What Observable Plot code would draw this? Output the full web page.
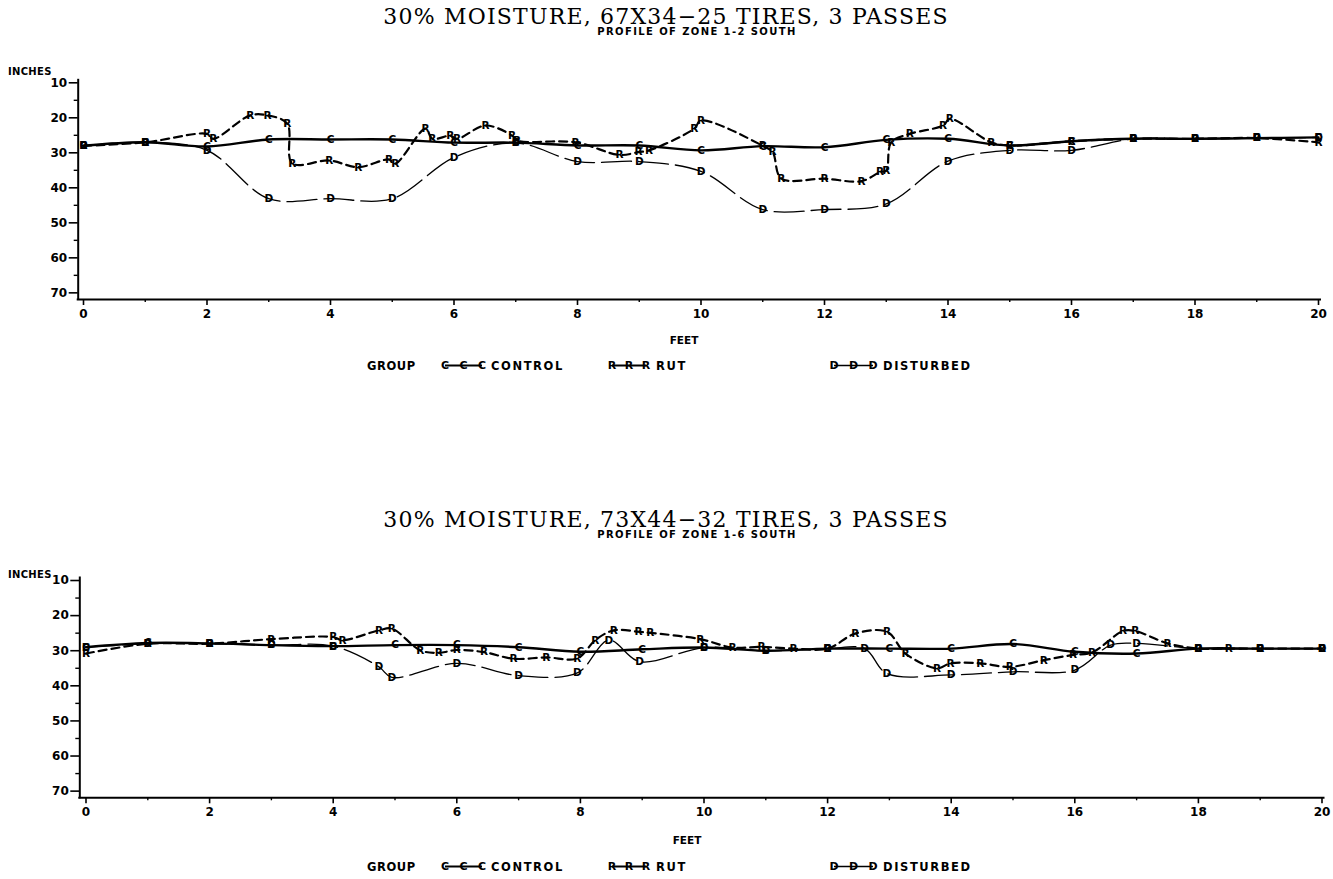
<!DOCTYPE html>
<html><head><meta charset="utf-8">
<script src="https://cdn.jsdelivr.net/npm/d3@7"></script>
<script src="https://cdn.jsdelivr.net/npm/@observablehq/plot@0.6"></script>
<style>
body{margin:0;background:#fff;}
#wrap{position:relative;width:1333px;height:879px;overflow:hidden;background:#fff;}
.chart{position:absolute;left:0;}
#overlay{position:absolute;left:0;top:0;pointer-events:none;}
</style></head>
<body><div id="wrap"><div id="c1" class="chart" style="top:0px"></div><div id="c2" class="chart" style="top:500px"></div></div>
<script>
// ---------- DATA ----------
const groups = ["CONTROL", "RUT", "DISTURBED"];
const groupLetters = ["C", "R", "D"];
const titles = ["30% MOISTURE, 67X34\u221225 TIRES, 3 PASSES", "30% MOISTURE, 73X44\u221232 TIRES, 3 PASSES"];
const subtitles = ["PROFILE OF ZONE 1-2 SOUTH", "PROFILE OF ZONE 1-6 SOUTH"];
const yAxisTitle = "INCHES";
const xAxisTitle = "FEET";
const legendTitle = "GROUP";
const yTicksMajor = [10, 20, 30, 40, 50, 60, 70];
const yTicksMinor = [15, 25, 35, 45, 55, 65];
const xTicksMajor = [0, 2, 4, 6, 8, 10, 12, 14, 16, 18, 20];
const xTicksMinor = [1, 3, 5, 7, 9, 11, 13, 15, 17, 19];

// Chart 1: zone 1-2 south
const z12ControlX = [0,1,2,3,4,5,6,7,8,9,10,11,12,13,14,15,16,17,18,19,20];
const z12ControlY = [28,27,28.2,26.2,26.2,26.2,27.1,27.1,27.9,27.9,29.3,28.1,28.4,26.3,26,27.9,26.7,26,26,25.8,25.6];
const z12RutX = [0,1,2,2.1,2.7,2.98,3.3,3.38,3.98,4.45,4.95,5.05,5.54,5.65,5.94,6.05,6.51,6.94,7.02,7.97,8.68,8.99,9.16,9.89,10,11,11.16,11.3,12,12.6,12.9,13,13.08,13.38,13.92,14.03,14.7,15,16,17,18,19,20];
const z12RutY = [28,27,24.6,26,19.3,19.3,21.7,33,32.2,34.1,31.9,33.1,23.1,26,25.1,26,22.2,25.1,26.5,27,30.6,29.8,29.3,23.1,20.8,28,29.8,37.3,37.4,38.1,35.5,35.1,27,24.6,22.2,20.3,27,27.9,26.7,26,26,25.8,27];
const z12DistX = [0,1,2,3,4,5,6,7,8,9,10,11,12,13,14,15,16,17,18,19,20];
const z12DistY = [28,27,29.3,43.1,43.1,43.1,31.3,27.2,32.5,32.5,35.3,46.2,46.2,44.6,32.4,29.3,29.3,26,26,25.8,25.6];

// Chart 2: zone 1-6 south
const z16ControlX = [0,1,2,3,4,5,6,7,8,9,10,11,12,13,14,15,16,17,18,19,20];
const z16ControlY = [29,27.8,27.9,28.4,28.7,28.4,28.4,29,30.3,29.6,29.1,30,29.4,29.4,29.4,28.1,30.3,30.8,29.4,29.4,29.4];
const z16RutX = [0,1,2,3,4,4.15,4.74,4.95,5.41,5.71,6,6.44,6.92,7.45,7.95,8.24,8.54,8.94,9.13,9.94,10.46,10.93,11.45,12,12.45,12.96,13.26,13.77,13.99,14.47,14.95,15.5,15.97,16.28,16.78,16.98,17.5,18,18.49,19,20];
const z16RutY = [30.8,28,28,26.7,26.1,27,24.2,23.7,29.9,30.6,29.8,30.4,32.3,31.9,32.2,27,24.2,24.6,24.9,26.7,29.1,28.9,29.4,29.4,25.1,24.6,30.8,35,33.6,33.6,34.6,32.7,31.2,30.5,24.4,24.4,27.9,29.4,29.4,29.4,29.4];
const z16DistX = [0,1,2,3,4,4.74,4.95,6,7,7.95,8.46,8.96,10,11,12,12.6,12.96,14,15,16,16.58,17,18,19,20];
const z16DistY = [29,28,28,28.4,28.7,34.6,37.6,33.6,37.1,36.3,27,33.1,29.1,30,29.4,29.4,36.5,36.9,36,35.5,28.4,27.9,29.4,29.4,29.4];

// ---------- BUILD ----------
function rows(xs, ys, g, letter) { return xs.map((x, i) => ({x, y: ys[i], g, letter})); }

const lineStyles = {
  CONTROL: {strokeWidth: 2.4},
  RUT: {strokeWidth: 2.2, strokeDasharray: "8,5"},
  DISTURBED: {strokeWidth: 1.3, strokeDasharray: "30,7"}
};

function makeChart(series, o) {
  const order = ["DISTURBED", "RUT", "CONTROL"];
  const lines = order.map(g => Plot.line(series[g], {x: "x", y: "y", curve: "catmull-rom", stroke: "#000", ...lineStyles[g]}));
  const pts = order.flatMap(g => series[g]);
  return Plot.plot({
    width: 1333, height: o.height,
    marginLeft: o.ml, marginRight: o.mr, marginTop: o.mt, marginBottom: o.mb,
    x: {domain: [0, 20]},
    y: {domain: [71.9, 9]},
    style: {fontFamily: "DejaVu Sans", fontWeight: "bold", color: "#000", background: "#fff", overflow: "visible"},
    marks: [
      Plot.axisY({ticks: yTicksMajor, tickSize: 9, tickPadding: 2, dx: o.ydx, label: null, fontSize: 12, fontWeight: "bold", strokeWidth: 1.6}),
      Plot.axisY({ticks: yTicksMinor, tickSize: 4, tickFormat: () => "", dx: o.ydx, label: null, strokeWidth: 1.4}),
      Plot.axisX({ticks: xTicksMajor, tickSize: 6, tickPadding: 4, label: null, fontSize: 12, fontWeight: "bold", strokeWidth: 1.6}),
      Plot.axisX({ticks: xTicksMinor, tickSize: 3, tickFormat: () => "", label: null, strokeWidth: 1.4}),
      Plot.ruleX([0], {dx: o.ydx, stroke: "#000", strokeWidth: 2, insetBottom: -1}),
      Plot.ruleY([71.9], {stroke: "#000", strokeWidth: 2, insetLeft: o.ydx - 1, insetRight: -3}),
      ...lines,
      Plot.text(pts, {x: "x", y: "y", text: "letter", fontSize: 10.5, fontWeight: "bold", fontFamily: "DejaVu Sans", fill: "#000"}),
      Plot.text([xAxisTitle], {frameAnchor: "bottom", dy: o.feetDy, dx: -17, fontSize: 10.5, fontWeight: "bold", fill: "#000"})
    ]
  });
}

const s1 = {
  CONTROL: rows(z12ControlX, z12ControlY, "CONTROL", "C"),
  RUT: rows(z12RutX, z12RutY, "RUT", "R"),
  DISTURBED: rows(z12DistX, z12DistY, "DISTURBED", "D")
};
const s2 = {
  CONTROL: rows(z16ControlX, z16ControlY, "CONTROL", "C"),
  RUT: rows(z16RutX, z16RutY, "RUT", "R"),
  DISTURBED: rows(z16DistX, z16DistY, "DISTURBED", "D")
};

document.getElementById("c1").append(makeChart(s1, {height: 355, ml: 83, mr: 15, mt: 78.8, mb: 56, ydx: -5.3, feetDy: 44}));
document.getElementById("c2").append(makeChart(s2, {height: 355, ml: 85.5, mr: 11.5, mt: 76.5, mb: 57.7, ydx: -6.2, feetDy: 46}));

// ---------- overlay texts: titles, INCHES, legends ----------
const ov = d3.select("#wrap").append("svg").attr("id", "overlay").attr("width", 1333).attr("height", 879);
const blocks = [
  {titleY: 23.5, subY: 34.5, inchesY: 74.5, inchesX: 8, legY: 370},
  {titleY: 526.5, subY: 537.5, inchesY: 577.5, inchesX: 8, legY: 871}
];
blocks.forEach((b, i) => {
  ov.append("text").attr("x", 666).attr("y", b.titleY).attr("text-anchor", "middle")
    .attr("font-family", "DejaVu Serif").attr("font-size", 22).attr("letter-spacing", 1.2).text(titles[i]);
  ov.append("text").attr("x", 697).attr("y", b.subY).attr("text-anchor", "middle")
    .attr("font-family", "DejaVu Sans").attr("font-weight", "bold").attr("font-size", 10)
    .attr("letter-spacing", 1.4).text(subtitles[i]);
  ov.append("text").attr("x", b.inchesX).attr("y", b.inchesY)
    .attr("font-family", "DejaVu Sans").attr("font-weight", "bold").attr("font-size", 10)
    .attr("letter-spacing", 0.3).text(yAxisTitle);
  const lg = ov.append("g").attr("font-family", "DejaVu Sans").attr("font-weight", "bold").attr("font-size", 11.5);
  lg.append("text").attr("x", 367).attr("y", b.legY).attr("letter-spacing", 0.6).text(legendTitle);
  const items = [
    {g: "CONTROL", x0: 445, x1: 482, tx: 491},
    {g: "RUT", x0: 612, x1: 646, tx: 656},
    {g: "DISTURBED", x0: 834, x1: 873, tx: 883}
  ];
  items.forEach((it, k) => {
    const cy = b.legY - 4.5;
    lg.append("line").attr("x1", it.x0).attr("x2", it.x1).attr("y1", cy).attr("y2", cy)
      .attr("stroke", "#000").attr("stroke-width", it.g === "DISTURBED" ? 1.3 : 2.2);
    [0, 0.5, 1].forEach(f => {
      lg.append("text").attr("x", it.x0 + f * (it.x1 - it.x0)).attr("y", cy).attr("dy", "0.36em")
        .attr("text-anchor", "middle").attr("font-size", 11).text(groupLetters[k]);
    });
    lg.append("text").attr("x", it.tx).attr("y", b.legY).attr("letter-spacing", 1.6).text(groups[k]);
  });
});
</script>
</body></html>
